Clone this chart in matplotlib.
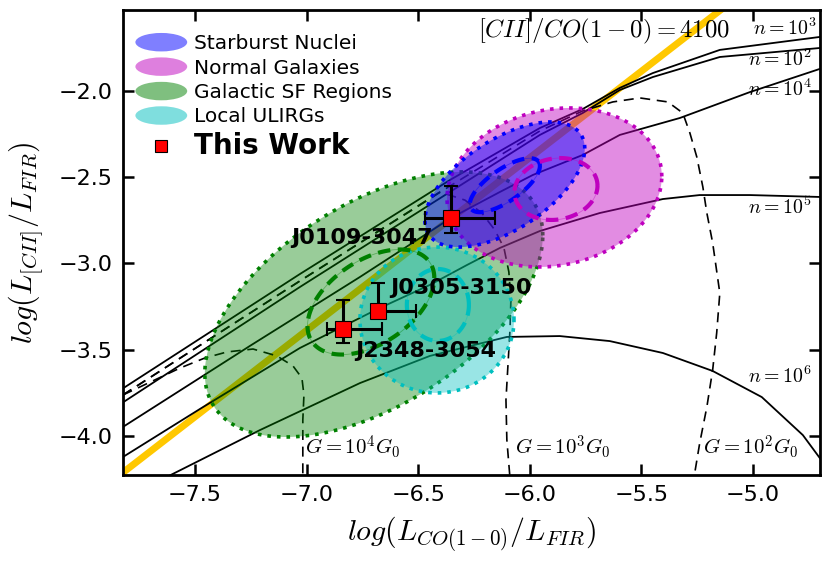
import numpy as np
import matplotlib
matplotlib.use('Agg')
import matplotlib.pyplot as plt
import matplotlib.patches as mpatches
from matplotlib.lines import Line2D
from matplotlib.legend_handler import HandlerPatch

plt.rcParams['mathtext.fontset'] = 'cm'
plt.rcParams['font.family'] = ['DejaVu Sans']

# ---------------- data ----------------
# This work: three quasars
src_names = ['J0109-3047', 'J0305-3150', 'J2348-3054']
src_x = [-6.354, -6.679, -6.836]
src_xerr_lo = [0.116, 0.03, 0.072]
src_xerr_hi = [0.197, 0.167, 0.175]
src_y = [-2.735, -3.275, -3.381]
src_yerr_lo = [0.087, 0.04, 0.081]
src_yerr_hi = [0.185, 0.16, 0.17]

# [CII]/CO(1-0) ratio line
cii_co_ratio = 4100

# PDR model tracks: constant density (solid)
n_labels = ['$n=10^3$', '$n=10^2$', '$n=10^4$', '$n=10^5$', '$n=10^6$']
n3_x = [-7.823, -7.030, -6.358, -5.955, -5.763, -5.597, -5.449, -5.149, -4.701]
n3_y = [-3.723, -3.061, -2.517, -2.216, -2.106, -1.984, -1.898, -1.764, -1.689]
n2_x = [-7.823, -7.030, -6.358, -5.955, -5.763, -5.597, -5.449, -5.149, -4.701]
n2_y = [-3.804, -3.136, -2.586, -2.256, -2.129, -1.996, -1.921, -1.805, -1.753]
n4_x = [-7.823, -7.254, -6.761, -6.354, -6.134, -5.987, -5.763, -5.597, -5.328, -5.014, -4.701]
n4_y = [-3.946, -3.477, -3.078, -2.737, -2.586, -2.488, -2.372, -2.256, -2.158, -2.008, -1.874]
n5_x = [-7.823, -7.478, -7.030, -6.681, -6.448, -6.282, -6.134, -5.955, -5.687, -5.404, -5.239, -5.014, -4.701]
n5_y = [-4.120, -3.842, -3.489, -3.263, -3.124, -3.009, -2.910, -2.812, -2.708, -2.627, -2.604, -2.604, -2.615]
n6_x = [-7.635, -7.209, -6.761, -6.448, -6.103, -5.866, -5.642, -5.404, -5.181, -4.961, -4.777, -4.701]
n6_y = [-4.241, -3.964, -3.692, -3.535, -3.425, -3.420, -3.449, -3.518, -3.622, -3.773, -3.993, -4.126]

# PDR model tracks: constant FUV field (dashed)
g_labels = ['$G=10^4G_0$', '$G=10^3G_0$', '$G=10^2G_0$']
g2_x = [-7.823, -7.030, -6.358, -5.955, -5.763, -5.628, -5.507, -5.382, -5.315, -5.283,
        -5.252, -5.225, -5.207, -5.181, -5.149, -5.163, -5.181, -5.207, -5.239, -5.265]
g2_y = [-3.761, -3.101, -2.552, -2.233, -2.117, -2.065, -2.042, -2.065, -2.129, -2.245,
        -2.384, -2.557, -2.708, -2.881, -3.171, -3.402, -3.616, -3.830, -4.039, -4.241]
g3_x = [-7.823, -7.030, -6.403, -6.291, -6.215, -6.157, -6.116, -6.094, -6.085, -6.089,
        -6.098, -6.107, -6.103, -6.089]
g3_y = [-3.761, -3.101, -2.586, -2.633, -2.708, -2.806, -2.910, -3.049, -3.211, -3.385,
        -3.587, -3.790, -4.021, -4.241]
g4_x = [-7.823, -7.567, -7.456, -7.357, -7.240, -7.133, -7.061, -7.021, -7.012, -7.017, -7.017]
g4_y = [-3.761, -3.605, -3.547, -3.512, -3.495, -3.535, -3.593, -3.663, -3.761, -3.906, -4.241]

# Comparison samples: (centre x, centre y, half-extent x, half-extent y, x-offset of top point)
region_names = ['Starburst Nuclei', 'Normal Galaxies', 'Galactic SF Regions', 'Local ULIRGs']
region_colors = ['#0000ff', '#bf00bf', '#008000', '#00bfbf']
region_cx = [-6.112, -5.890, -6.699, -6.416]
region_cy = [-2.543, -2.560, -3.237, -3.327]
region_hx = [0.358, 0.481, 0.757, 0.345]
region_hy = [0.362, 0.460, 0.767, 0.422]
region_tx = [0.206, 0.067, 0.394, 0.0]
core_cx = [-6.112, -5.883, -6.712, -6.412]
core_cy = [-2.547, -2.569, -3.223, -3.240]
core_hx = [0.157, 0.186, 0.284, 0.139]
core_hy = [0.156, 0.179, 0.304, 0.208]
core_tx = [0.112, 0.02, 0.13, 0.0]

x_ticks = [-7.5, -7.0, -6.5, -6.0, -5.5, -5.0]
y_ticks = [-4.0, -3.5, -3.0, -2.5, -2.0]

# drawing styles
region_alpha = [0.45, 0.45, 0.4, 0.4]
region_layer = [3.3, 3.2, 3.0, 3.1]


def ellipse_xy(cx, cy, hx, hy, tx, n=240):
    c = hy * tx
    t = np.linspace(0, 2 * np.pi, n)
    x = cx + hx * np.cos(t)
    y = cy + (c / hx) * np.cos(t) + np.sqrt(hy ** 2 - (c / hx) ** 2) * np.sin(t)
    return np.column_stack([x, y])


class HandlerEllipse(HandlerPatch):
    def create_artists(self, legend, orig_handle, xdescent, ydescent,
                       width, height, fontsize, trans):
        center = (0.5 * width - xdescent, 0.5 * height - ydescent)
        p = mpatches.Ellipse(xy=center, width=width * 1.05, height=height * 1.15)
        self.update_prop(p, orig_handle, legend)
        p.set_transform(trans)
        return [p]


fig = plt.figure(figsize=(8.3, 5.61), dpi=100)
ax = fig.add_axes([0.1478, 0.1533, 0.988 - 0.1478, 0.9822 - 0.1533])
ax.set_xlim(-7.824, -4.70)
ax.set_ylim(-4.224, -1.533)

# ratio line
xx = np.array(ax.get_xlim())
ax.plot(xx, xx + np.log10(cii_co_ratio), color='#ffc800', lw=5, zorder=1, solid_capstyle='butt')

# model tracks
for xs, ys in [(n3_x, n3_y), (n2_x, n2_y), (n4_x, n4_y), (n5_x, n5_y), (n6_x, n6_y)]:
    ax.plot(xs, ys, color='black', lw=1.3, zorder=1)
for xs, ys in [(g2_x, g2_y), (g3_x, g3_y), (g4_x, g4_y)]:
    ax.plot(xs, ys, color='black', lw=1.2, ls=(0, (6, 4)), zorder=1)

# regions
for i in range(4):
    col = region_colors[i]
    pts = ellipse_xy(region_cx[i], region_cy[i], region_hx[i], region_hy[i], region_tx[i])
    rgba = matplotlib.colors.to_rgba(col, region_alpha[i])
    ax.add_patch(mpatches.Polygon(pts, closed=True, facecolor=rgba, edgecolor='none',
                                  zorder=region_layer[i]))
    ax.add_patch(mpatches.Polygon(pts, closed=True, facecolor='none', edgecolor=col,
                                  lw=2.6, ls=':', zorder=region_layer[i] + 0.05))
for i in range(4):
    col = region_colors[i]
    pts = ellipse_xy(core_cx[i], core_cy[i], core_hx[i], core_hy[i], core_tx[i])
    ax.add_patch(mpatches.Polygon(pts, closed=True, facecolor='none', edgecolor=col,
                                  lw=0.6, alpha=0.4, zorder=3.6))
    ax.add_patch(mpatches.Polygon(pts, closed=True, facecolor='none', edgecolor=col,
                                  lw=3, ls=(0, (3, 1.8)), zorder=3.7))

# this work
ax.errorbar(src_x, src_y,
            xerr=[src_xerr_lo, src_xerr_hi], yerr=[src_yerr_lo, src_yerr_hi],
            fmt='none', ecolor='black', elinewidth=2.2, capsize=5, capthick=1.5, zorder=4)
ax.plot(src_x, src_y, 's', color='red', mec='black', mew=0.8, ms=12, zorder=5)

label_pos = [(-7.067, -2.852), (-6.627, -3.142), (-6.781, -3.506)]
for name, (lx, ly) in zip(src_names, label_pos):
    ax.text(lx, ly, name, fontsize=16, fontweight='bold', ha='left', va='center', zorder=6)

# annotations
ax.text(-6.233, -1.660, r'$[CII]/CO(1-0)=4100$', fontsize=17.8, ha='left', va='center', zorder=6)
n_pos = [(-5.001, -1.637), (-5.023, -1.817), (-5.023, -1.990), (-5.023, -2.673), (-5.023, -3.655)]
for lab, (lx, ly) in zip(n_labels, n_pos):
    ax.text(lx, ly, lab, fontsize=14.3, ha='left', va='center', zorder=6)
g_pos = [(-7.008, -4.065), (-6.067, -4.065), (-5.225, -4.065)]
for lab, (lx, ly) in zip(g_labels, g_pos):
    ax.text(lx, ly, lab, fontsize=15, ha='left', va='center', zorder=6)

# legend
handles = [mpatches.Ellipse((0, 0), 1, 1, facecolor=matplotlib.colors.to_rgba(c, 0.5), edgecolor='none')
           for c in region_colors]
handles.append(Line2D([], [], marker='s', color='red', mec='black', mew=0.8, ms=9, ls='none'))
labels = region_names + ['This Work']
hmap = {h: HandlerEllipse() for h in handles[:4]}
leg = ax.legend(handles, labels, handler_map=hmap, loc='upper left', bbox_to_anchor=(0.02, 0.948),
                frameon=False, fontsize=14.5, handlelength=2.45, handleheight=0.85,
                handletextpad=0.4, labelspacing=0.27, borderpad=0, borderaxespad=0)
leg.get_texts()[4].set_fontweight('bold')
leg.get_texts()[4].set_fontsize(20)
leg.set_zorder(7)

ax.set_xticks(x_ticks)
ax.set_yticks(y_ticks)
ax.tick_params(direction='in', length=8, width=1.8, top=True, right=True, labelsize=16, pad=7)
for sp in ax.spines.values():
    sp.set_linewidth(2.0)
ax.set_xlabel(r'$log(L_{CO(1-0)}/L_{FIR})$', fontsize=21.5, labelpad=7)
ax.set_ylabel(r'$log(L_{[CII]}/L_{FIR})$', fontsize=21.5, labelpad=9)

fig.savefig('out.png', dpi=100)
